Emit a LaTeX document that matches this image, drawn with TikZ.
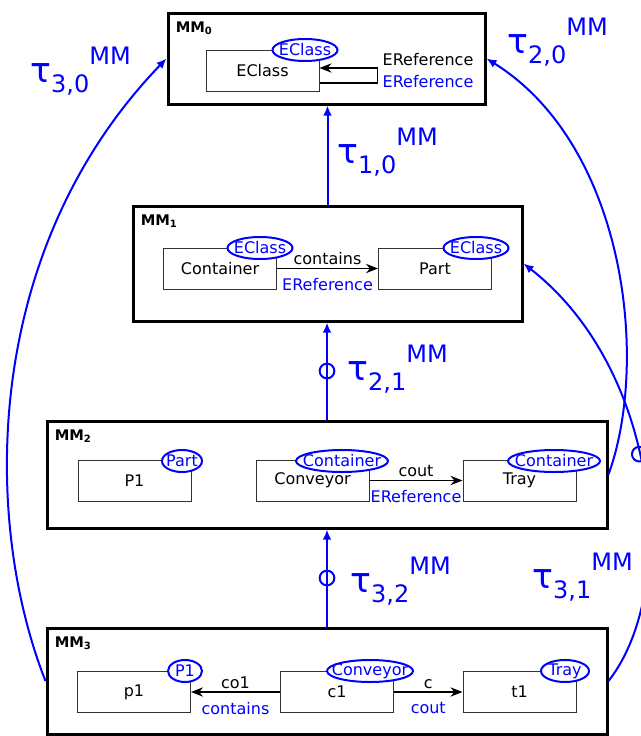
\documentclass[tikz,border=0pt]{standalone}
\usepackage{fontspec}
\setmainfont{DejaVu Sans}
\usetikzlibrary{arrows.meta,fit,shapes.geometric}

\newcommand{\mmname}[1]{\textbf{MM}\raisebox{-1.5pt}{\fontsize{7.5}{7.5}\selectfont\bfseries #1}}
\newcommand{\tmm}[1]{{\fontsize{26}{26}\selectfont τ}\raisebox{-7.5pt}{\fontsize{18}{18}\selectfont #1}\raisebox{13pt}{\fontsize{18}{18}\selectfont MM}}

\begin{document}
\begin{tikzpicture}[x=0.75pt, y=-0.75pt,
    frame/.style={draw, line width=2.25pt, inner sep=0pt},
    cls/.style={draw=black!80, line width=0.75pt, minimum width=84.75pt, minimum height=30.75pt, font=\fontsize{12}{14}\selectfont},
    tag/.style={ellipse, draw=blue, line width=1.5pt, fill=white, text=blue, inner xsep=-20pt, inner ysep=-10pt, minimum height=16.5pt, font=\fontsize{12}{14}\selectfont},
    ref/.style={-{Stealth[length=9pt, width=7pt]}, line width=1.1pt},
    trans/.style={-{Latex[length=7.5pt, width=6.5pt]}, draw=blue, line width=1.5pt},
    ring/.style={circle, draw=blue, line width=1.5pt, minimum size=11pt, inner sep=0pt},
    lbl/.style={font=\fontsize{12}{14}\selectfont, inner sep=1pt},
    tlab/.style={text=blue, anchor=base west, inner sep=0pt},
    mmlab/.style={anchor=base west, inner sep=0pt, font=\fontsize{11}{13}\selectfont}]
  \useasboundingbox (0,0) rectangle (640,736);

  % MM0
  \node[frame, fit={(168,13) (485,104)}] (mm0) {};
  \node[mmlab] (n0) at ([shift={(9,21)}]mm0.north west) {\mmname{0}};
  \node[cls] (ec) at (262.5,70.5) {EClass};
  \node[tag, minimum width=48.75pt] (tec) at (305,50) {EClass};
  \draw[ref] ([shift={(0,12.5)}]ec.east) -| ([shift={(58,-2.5)}]ec.east) -- ([shift={(0,-2.5)}]ec.east);
  \node[lbl] (er0) at (428,60) {EReference};
  \node[lbl, text=blue] (ber0) at (428,82) {EReference};

  % MM1
  \node[frame, fit={(133,206) (522,321)}] (mm1) {};
  \node[mmlab] (n1) at ([shift={(9,21)}]mm1.north west) {\mmname{1}};
  \node[cls] (cont) at (220,268.5) {Container};
  \node[cls] (part) at (435,268.5) {Part};
  \node[tag, minimum width=48.75pt] (tcont) at (260,248) {EClass};
  \node[tag, minimum width=48.75pt] (tpart) at (476,248) {EClass};
  \draw[ref] (cont) -- (part)
    node[lbl, midway, above=1pt] (r1) {contains}
    node[lbl, midway, below=6pt, text=blue] (br1) {EReference};

  % MM2
  \node[frame, fit={(47,421) (607,528)}] (mm2) {};
  \node[mmlab] (n2) at ([shift={(9,21)}]mm2.north west) {\mmname{2}};
  \node[cls] (p1) at (134.5,480.5) {P1};
  \node[cls] (conv) at (312.5,480.5) {Conveyor};
  \node[cls] (tray) at (519.5,480.5) {Tray};
  \node[tag, minimum width=30pt] (tp1) at (182,461) {Part};
  \node[tag, minimum width=69pt] (tconv) at (342,461) {Container};
  \node[tag, minimum width=69pt] (ttray) at (554,461) {Container};
  \draw[ref] (conv) -- (tray)
    node[lbl, midway, above=1pt] (r2) {cout}
    node[lbl, midway, below=6pt, text=blue] (br2) {EReference};

  % MM3
  \node[frame, fit={(47,628) (607,734)}] (mm3) {};
  \node[mmlab] (n3) at ([shift={(9,21)}]mm3.north west) {\mmname{3}};
  \node[cls] (op1) at (134,692) {p1};
  \node[cls] (oc1) at (337,692) {c1};
  \node[cls] (ot1) at (519.5,692) {t1};
  \node[tag, minimum width=25.5pt] (top1) at (185,671) {P1};
  \node[tag, minimum width=64.5pt] (toc1) at (370,671) {Conveyor};
  \node[tag, minimum width=36pt] (tot1) at (565,671) {Tray};
  \draw[ref] (oc1) -- (op1)
    node[lbl, midway, above=1pt] (r3) {co1}
    node[lbl, midway, below=6pt, text=blue] (br3) {contains};
  \draw[ref] (oc1) -- (ot1)
    node[lbl, midway, above=1pt] (r4) {c}
    node[lbl, midway, below=6pt, text=blue] (br4) {cout};

  % transformations
  \draw[trans] (mm1.north) -- (mm1.north |- mm0.south);
  \node[tlab] (t10) at (337,163) {\tmm{1,0}};
  \draw[trans] (mm2.north) -- (mm2.north |- mm1.south) node[ring, pos=0.5] (o21) {};
  \node[tlab] (t21) at (347,380) {\tmm{2,1}};
  \draw[trans] (mm3.north) -- (mm3.north |- mm2.south) node[ring, pos=0.5] (o32) {};
  \node[tlab] (t32) at (350,592) {\tmm{3,2}};
  \draw[trans] (mm3.west) .. controls (-18,520) and (-18,250) .. (mm0.west);
  \node[tlab] (t30) at (30,82) {\tmm{3,0}};
  \draw[trans] (mm2.east) .. controls (650,360) and (625,145) .. (mm0.east);
  \node[tlab] (t20) at (507,53) {\tmm{2,0}};
  \draw[trans] (mm3.east) .. controls (680,590) and (660,370) .. (mm1.east) node[ring, pos=0.55] (o31) {};
  \node[tlab] (t31) at (532,588) {\tmm{3,1}};
\end{tikzpicture}
\end{document}
